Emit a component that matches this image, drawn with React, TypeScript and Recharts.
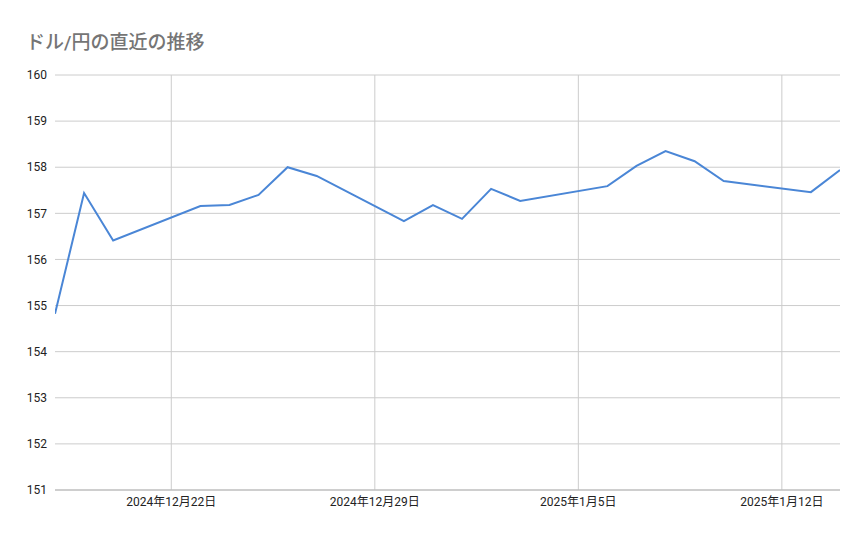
import { LineChart, Line, XAxis, YAxis, CartesianGrid, ReferenceLine } from 'recharts'

// trading days and closing rate (USD/JPY)
const dates = [
  '2024-12-18', '2024-12-19', '2024-12-20', '2024-12-23', '2024-12-24',
  '2024-12-25', '2024-12-26', '2024-12-27', '2024-12-30', '2024-12-31',
  '2025-01-01', '2025-01-02', '2025-01-03', '2025-01-06', '2025-01-07',
  '2025-01-08', '2025-01-09', '2025-01-10', '2025-01-13', '2025-01-14',
]
const rates = [
  154.82, 157.44, 156.41, 157.16, 157.18,
  157.40, 158.00, 157.81, 156.83, 157.18,
  156.88, 157.53, 157.27, 157.59, 158.03,
  158.35, 158.13, 157.70, 157.46, 157.94,
]
const dateTicks = ['2024-12-22', '2024-12-29', '2025-01-05', '2025-01-12']
const yTicks = [151, 152, 153, 154, 155, 156, 157, 158, 159, 160]

const toTime = (s: string) => {
  const [y, m, d] = s.split('-').map(Number)
  return Date.UTC(y, m - 1, d)
}
const start = toTime(dates[0])
const end = toTime(dates[dates.length - 1])

const data = dates.map((d, i) => ({ t: toTime(d), rate: rates[i] }))

function fmtDate(t: number): string {
  const dt = new Date(t)
  return `${dt.getUTCFullYear()}年${dt.getUTCMonth() + 1}月${dt.getUTCDate()}日`
}

const font = "Roboto, 'Noto Sans CJK JP', sans-serif"

export default function App() {
  return (
    <div style={{ position: 'absolute', left: 0, top: 0, width: 867, height: 537, background: '#fff', fontFamily: font }}>
      <div
        style={{
          position: 'absolute',
          left: 26,
          top: 27,
          fontSize: 19,
          fontWeight: 500,
          color: '#757575',
          whiteSpace: 'nowrap',
        }}
      >
        ドル/円の直近の推移
      </div>
      <LineChart width={867} height={537} data={data} margin={{ top: 75, right: 27, bottom: 17, left: 0 }}>
        <CartesianGrid stroke="#cccccc" vertical={false} />
        {dateTicks.map((d) => (
          <ReferenceLine key={d} x={toTime(d)} stroke="#cccccc" />
        ))}
        <XAxis
          dataKey="t"
          type="number"
          domain={[start, end]}
          ticks={dateTicks.map(toTime)}
          tickFormatter={fmtDate}
          tick={{ fill: '#222', fontSize: 12, fontFamily: font }}
          tickLine={false}
          axisLine={{ stroke: '#b7b7b7' }}
          tickSize={0}
          tickMargin={7}
          height={30}
          allowDataOverflow
        />
        <YAxis
          type="number"
          domain={[151, 160]}
          ticks={yTicks}
          tick={{ fill: '#222', fontSize: 12, fontFamily: font }}
          tickLine={false}
          axisLine={false}
          tickSize={0}
          tickMargin={8}
          width={55}
        />
        <Line
          type="linear"
          dataKey="rate"
          stroke="#4a86d6"
          strokeWidth={2}
          dot={false}
          isAnimationActive={false}
        />
      </LineChart>
    </div>
  )
}
